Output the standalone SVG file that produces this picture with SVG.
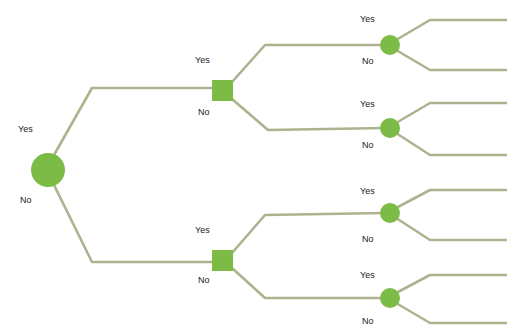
<svg xmlns="http://www.w3.org/2000/svg" width="507" height="330" viewBox="0 0 507 330">
<style>
.c{fill:none;stroke:#aeb28f;stroke-width:2.6;stroke-linejoin:round}
.n{fill:#7cbb45}
.t{font-family:"Liberation Sans",Arial,sans-serif;font-size:9px;fill:#222}
</style>
<rect width="507" height="330" fill="#fff"/>
<g id="connectors">
<path class="c" d="M54,155 L92,88 L213,88"/>
<path class="c" d="M54,185 L92,262 L212,262"/>
<path class="c" d="M232,82 L265,45 L385,45"/>
<path class="c" d="M232,99 L268,130 L385,128"/>
<path class="c" d="M232,253 L265,215 L385,213"/>
<path class="c" d="M232,268 L265,298 L385,298"/>
<path class="c" d="M396,40 L430,20 L507,20"/>
<path class="c" d="M396,50 L430,70 L507,70"/>
<path class="c" d="M396,123 L430,103 L507,103"/>
<path class="c" d="M396,133 L430,155 L507,155"/>
<path class="c" d="M396,208 L430,190 L507,190"/>
<path class="c" d="M396,218 L430,240 L507,240"/>
<path class="c" d="M396,293 L430,275 L507,275"/>
<path class="c" d="M396,303 L430,323 L507,323"/>
</g>
<g id="root"><circle class="n" cx="48" cy="170" r="17"/><text class="t" x="18" y="132">Yes</text><text class="t" x="20" y="203">No</text></g>
<g id="d1"><rect class="n" x="212" y="80" width="21" height="21"/><text class="t" x="195" y="63">Yes</text><text class="t" x="198" y="115">No</text></g>
<g id="d2"><rect class="n" x="212" y="250" width="21" height="21"/><text class="t" x="195" y="233">Yes</text><text class="t" x="198" y="283">No</text></g>
<g id="c1"><circle class="n" cx="390" cy="45" r="10"/><text class="t" x="360" y="22">Yes</text><text class="t" x="362" y="64">No</text></g>
<g id="c2"><circle class="n" cx="390" cy="128" r="10"/><text class="t" x="360" y="107">Yes</text><text class="t" x="362" y="148">No</text></g>
<g id="c3"><circle class="n" cx="390" cy="213" r="10"/><text class="t" x="360" y="194">Yes</text><text class="t" x="362" y="242">No</text></g>
<g id="c4"><circle class="n" cx="390" cy="298" r="10"/><text class="t" x="360" y="278">Yes</text><text class="t" x="362" y="324">No</text></g>
</svg>
